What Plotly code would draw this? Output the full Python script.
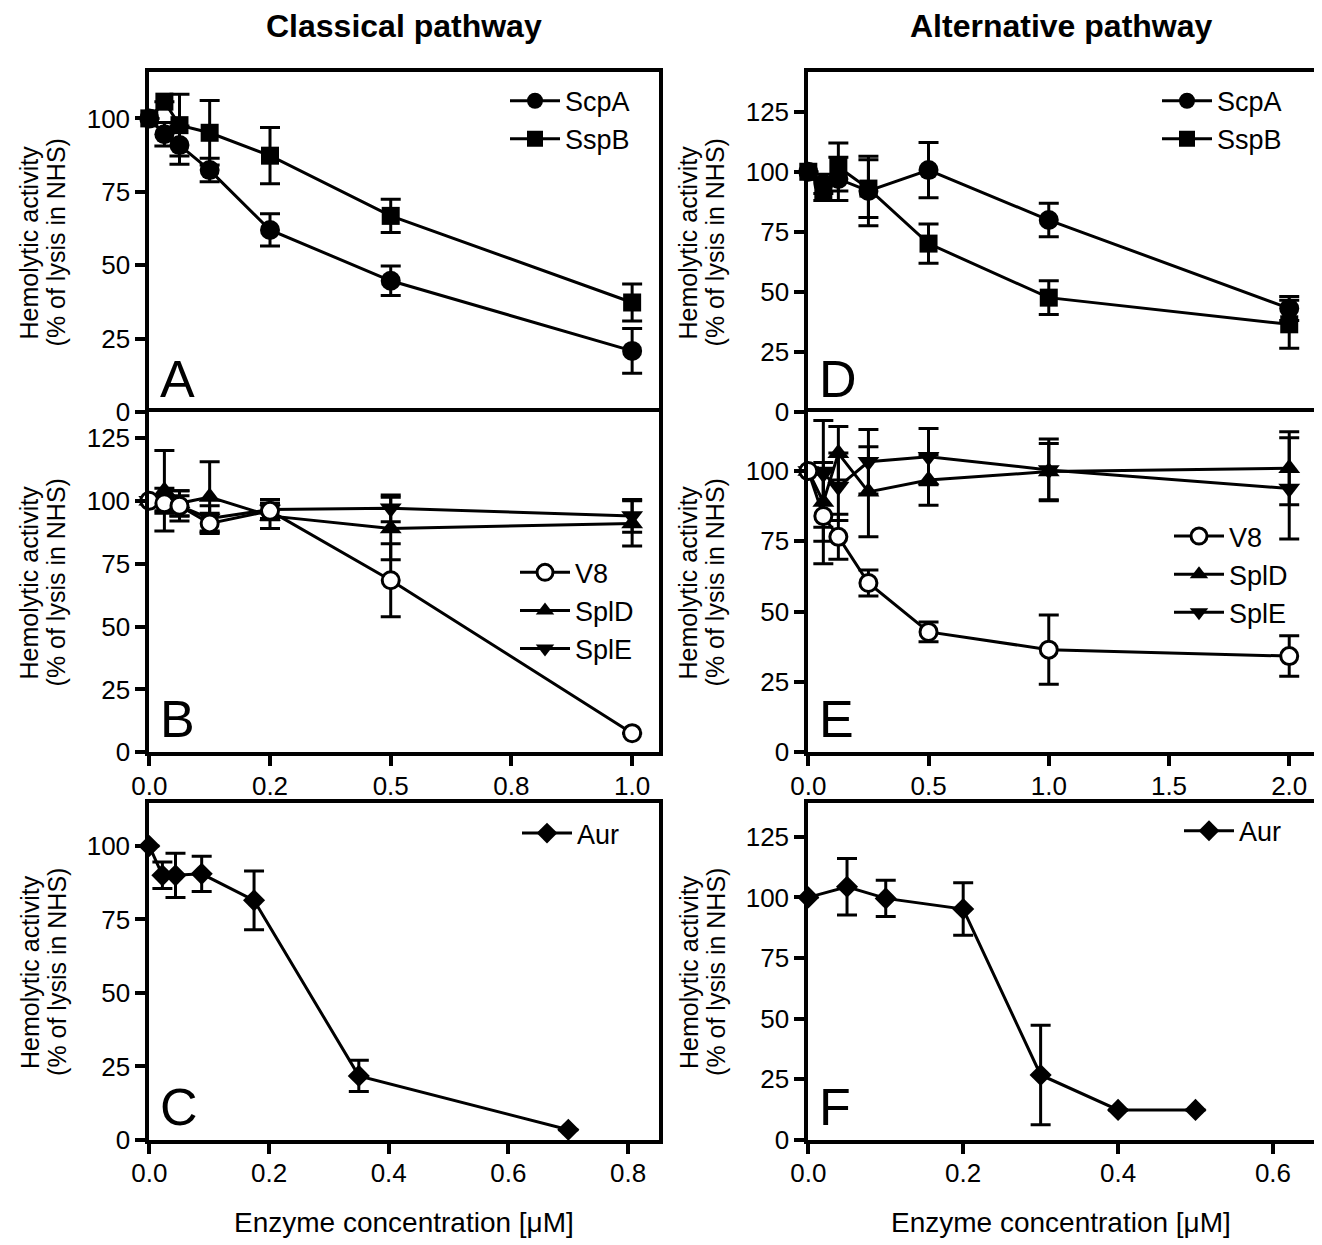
import plotly.graph_objects as go

# The page body adds an 8px margin, so the figure is sized to fit the
# 1322x1245 window and all reference pixel positions are shifted by 8px.
OFF = 8
W, H = 1322 - OFF, 1245 - OFF

# ---------------- data ----------------
# Classical pathway (A, B): doubling dilutions up to 1.0 uM
x_cp = [0, 0.03125, 0.0625, 0.125, 0.25, 0.5, 1.0]
scpa_cp = [100, 94.6, 90.9, 82.4, 62.0, 44.7, 20.8]
scpa_cp_err = [0, 4.0, 6.5, 4.0, 5.5, 5.0, 7.6]
sspb_cp = [100, 105.7, 97.7, 95.1, 87.3, 66.8, 37.3]
sspb_cp_err = [0, 0, 10.5, 11.0, 9.6, 5.7, 6.3]

v8_cp = [100, 99, 98, 91, 96, 68.4, 7.6]
v8_cp_err = [0, 3, 4, 4, 3, 14.5, 0]
spld_cp = [100, 104, 99, 101.5, 94, 89, 91]
spld_cp_err = [0, 16, 5, 14, 5, 12.4, 9]
sple_cp = [100, 100, 98, 93, 96.5, 97, 94]
sple_cp_err = [0, 5, 6, 5, 4, 5.3, 6.5]

# Classical pathway (C): aureolysin
x_aur_cp = [0, 0.021875, 0.04375, 0.0875, 0.175, 0.35, 0.7]
aur_cp = [100, 90, 90, 90.5, 81.5, 21.8, 3.5]
aur_cp_err = [0, 4.5, 7.5, 6, 10, 5.3, 0]

# Alternative pathway (D, E): doubling dilutions up to 2.0 uM
x_ap = [0, 0.0625, 0.125, 0.25, 0.5, 1.0, 2.0]
scpa_ap = [100, 95, 97, 92, 100.7, 79.9, 43.1]
scpa_ap_err = [0, 4, 9, 14.5, 11.5, 7, 5]
sspb_ap = [100, 92, 102, 93, 70.1, 47.6, 36.5]
sspb_ap_err = [0, 4, 10, 12, 8.2, 7, 10]

v8_ap = [100, 84, 76.6, 60.2, 42.8, 36.5, 34.2]
v8_ap_err = [0, 17, 8, 4.6, 3.5, 12.3, 7.2]
spld_ap = [100, 89, 106.3, 92.6, 96.8, 99.8, 101]
spld_ap_err = [0, 14, 9.5, 16, 9, 10, 13]
sple_ap = [100, 99, 94.4, 103.3, 105.1, 100.4, 93.8]
sple_ap_err = [0, 19, 12, 11.5, 10, 11, 18]

# Alternative pathway (F): aureolysin
x_aur_ap = [0, 0.05, 0.1, 0.2, 0.3, 0.4, 0.5]
aur_ap = [100, 104.4, 99.6, 95.2, 26.8, 12.4, 12.4]
aur_ap_err = [0, 11.6, 7.5, 10.8, 20.5, 0, 0]

# tick labels
xt_cp_vals = [0, 0.25, 0.5, 0.75, 1.0]
xt_cp_text = ["0.0", "0.2", "0.5", "0.8", "1.0"]
xt_aur_cp_vals = [0, 0.2, 0.4, 0.6, 0.8]
xt_ap_vals = [0, 0.5, 1.0, 1.5, 2.0]
xt_aur_ap_vals = [0, 0.2, 0.4, 0.6]

titles = ["Classical pathway", "Alternative pathway"]
ytitle_l1 = "Hemolytic activity"
ytitle_l2 = "(% of lysis in NHS)"
xtitle = "Enzyme concentration [\u03bcM]"

# ---------------- layout helpers (reference pixel coords) ----------------
FONT = "Liberation Sans, Arial, Helvetica, sans-serif"
LEFT = (149.3, 658.7)
RIGHT = (808.3, 1314.0)
ROW_A = (72.3, 412.0)
ROW_B = (412.0, 752.3)
ROW_C = (803.3, 1140.0)


def PX(rx):
    return (rx - OFF) / W


def PY(ry):
    return 1 - (ry - OFF) / H


def xdom(c):
    return [PX(c[0]), PX(c[1])]


def ydom(r):
    return [PY(r[1]), PY(r[0])]


panels = [
    # id, letter, xcol, yrow, xrange, yrange, yticks, xtickvals, xticktext, show x ticks
    (1, "A", LEFT, ROW_A, [0, 1.055], [0, 115.7], [0, 25, 50, 75, 100], None, None, False),
    (2, "B", LEFT, ROW_B, [0, 1.055], [0, 135.3], [0, 25, 50, 75, 100, 125], xt_cp_vals, xt_cp_text, True),
    (3, "C", LEFT, ROW_C, [0, 0.851], [0, 114.5], [0, 25, 50, 75, 100], xt_aur_cp_vals, None, True),
    (4, "D", RIGHT, ROW_A, [0, 2.103], [0, 141.4], [0, 25, 50, 75, 100, 125], None, None, False),
    (5, "E", RIGHT, ROW_B, [0, 2.103], [0, 121.0], [0, 25, 50, 75, 100], xt_ap_vals, None, True),
    (6, "F", RIGHT, ROW_C, [0, 0.653], [0, 138.8], [0, 25, 50, 75, 100, 125], xt_aur_ap_vals, None, True),
]

fig = go.Figure()
layout = dict(
    width=W, height=H, margin=dict(l=0, r=0, t=0, b=0, autoexpand=False),
    paper_bgcolor="white", plot_bgcolor="white",
    font=dict(family=FONT, color="black", size=26),
    showlegend=True,
)
annotations = []

for pid, letter, xc, yr, xrng, yrng, yticks, xtv, xtt, showx in panels:
    sx = "" if pid == 1 else str(pid)
    xa = dict(
        domain=xdom(xc), range=xrng, anchor="y" + sx,
        showline=True, linecolor="black", linewidth=4,
        showgrid=False, zeroline=False,
        ticks="outside" if showx else "", ticklen=10, tickwidth=4, tickcolor="black",
        showticklabels=showx, tickfont=dict(size=26, family=FONT),
    )
    if showx:
        xa["mirror"] = True
        xa["tickmode"] = "array"
        xa["tickvals"] = xtv
        xa["ticklabelstandoff"] = -3
        if xtt is not None:
            xa["ticktext"] = xtt
        else:
            xa["tickformat"] = ".1f"
    else:
        # top panel: only its top border; the shared border comes from the panel below
        xa["side"] = "top"
        xa["mirror"] = False
    ya = dict(
        domain=ydom(yr), range=yrng, anchor="x" + sx,
        showline=True, linecolor="black", linewidth=4, mirror=True,
        showgrid=False, zeroline=False,
        ticks="outside", ticklen=10, tickwidth=4, tickcolor="black",
        tickmode="array", tickvals=yticks, tickfont=dict(size=26, family=FONT),
    )
    layout["xaxis" + sx] = xa
    layout["yaxis" + sx] = ya

    # panel letter
    annotations.append(dict(
        text=letter, xref="paper", yref="paper",
        x=PX(xc[0] + 9), y=PY(yr[1] - 2),
        xanchor="left", yanchor="bottom", showarrow=False,
        font=dict(size=52, family=FONT, color="black"),
    ))
    # y-axis title (two lines)
    ycen = PY((yr[0] + yr[1]) / 2)
    for off, txt in ((-120, ytitle_l1), (-93, ytitle_l2)):
        annotations.append(dict(
            text=txt, xref="paper", yref="paper",
            x=PX(xc[0] + off), y=ycen, xanchor="center", yanchor="middle",
            textangle=-90, showarrow=False,
            font=dict(size=25, family=FONT, color="black"),
        ))

# column titles and x titles
for col, t in zip((LEFT, RIGHT), titles):
    cx = PX((col[0] + col[1]) / 2)
    annotations.append(dict(
        text="<b>" + t + "</b>", xref="paper", yref="paper", x=cx, y=PY(26),
        xanchor="center", yanchor="middle", showarrow=False,
        font=dict(size=32, family=FONT, color="black"),
    ))
    annotations.append(dict(
        text=xtitle, xref="paper", yref="paper", x=cx, y=PY(1222),
        xanchor="center", yanchor="middle", showarrow=False,
        font=dict(size=28, family=FONT, color="black"),
    ))
layout["annotations"] = annotations


def add(pid, name, xs, ys, err, symbol, size, fill, legend, rank):
    sx = "" if pid == 1 else str(pid)
    fig.add_trace(go.Scatter(
        x=xs, y=ys, name=name, mode="lines+markers",
        xaxis="x" + sx, yaxis="y" + sx, cliponaxis=False,
        line=dict(color="black", width=3),
        marker=dict(symbol=symbol, size=size, color=fill,
                    line=dict(color="black", width=3 if fill == "white" else 0)),
        error_y=dict(type="data", array=err, visible=True, color="black",
                     thickness=3, width=10),
        legend=legend, legendgroup=legend + name, legendrank=rank,
    ))


# Panel A
add(1, "ScpA", x_cp, scpa_cp, scpa_cp_err, "circle", 20, "black", "legend", 1)
add(1, "SspB", x_cp, sspb_cp, sspb_cp_err, "square", 18, "black", "legend", 2)
# Panel B
add(2, "SplD", x_cp, spld_cp, spld_cp_err, "triangle-up", 19, "black", "legend2", 2)
add(2, "SplE", x_cp, sple_cp, sple_cp_err, "triangle-down", 19, "black", "legend2", 3)
add(2, "V8", x_cp, v8_cp, v8_cp_err, "circle", 17, "white", "legend2", 1)
# Panel C
add(3, "Aur", x_aur_cp, aur_cp, aur_cp_err, "diamond", 17, "black", "legend3", 1)
# Panel D
add(4, "ScpA", x_ap, scpa_ap, scpa_ap_err, "circle", 20, "black", "legend4", 1)
add(4, "SspB", x_ap, sspb_ap, sspb_ap_err, "square", 18, "black", "legend4", 2)
# Panel E
add(5, "SplD", x_ap, spld_ap, spld_ap_err, "triangle-up", 19, "black", "legend5", 2)
add(5, "SplE", x_ap, sple_ap, sple_ap_err, "triangle-down", 19, "black", "legend5", 3)
add(5, "V8", x_ap, v8_ap, v8_ap_err, "circle", 17, "white", "legend5", 1)
# Panel F
add(6, "Aur", x_aur_ap, aur_ap, aur_ap_err, "diamond", 17, "black", "legend6", 1)

legend_pos = {
    "legend": (505, 96.7),
    "legend2": (515, 568.3),
    "legend3": (517, 829),
    "legend4": (1157, 96.7),
    "legend5": (1169, 532),
    "legend6": (1179, 826.7),
}
for key, (lx, ly) in legend_pos.items():
    layout[key] = dict(
        x=PX(lx), y=PY(ly - 20), xanchor="left", yanchor="top",
        bgcolor="rgba(0,0,0,0)", borderwidth=0,
        font=dict(size=27, family=FONT, color="black"),
        traceorder="grouped", tracegroupgap=0, itemwidth=50,
        itemsizing="trace",
    )

fig.update_layout(**layout)
fig.write_html("out.html")
